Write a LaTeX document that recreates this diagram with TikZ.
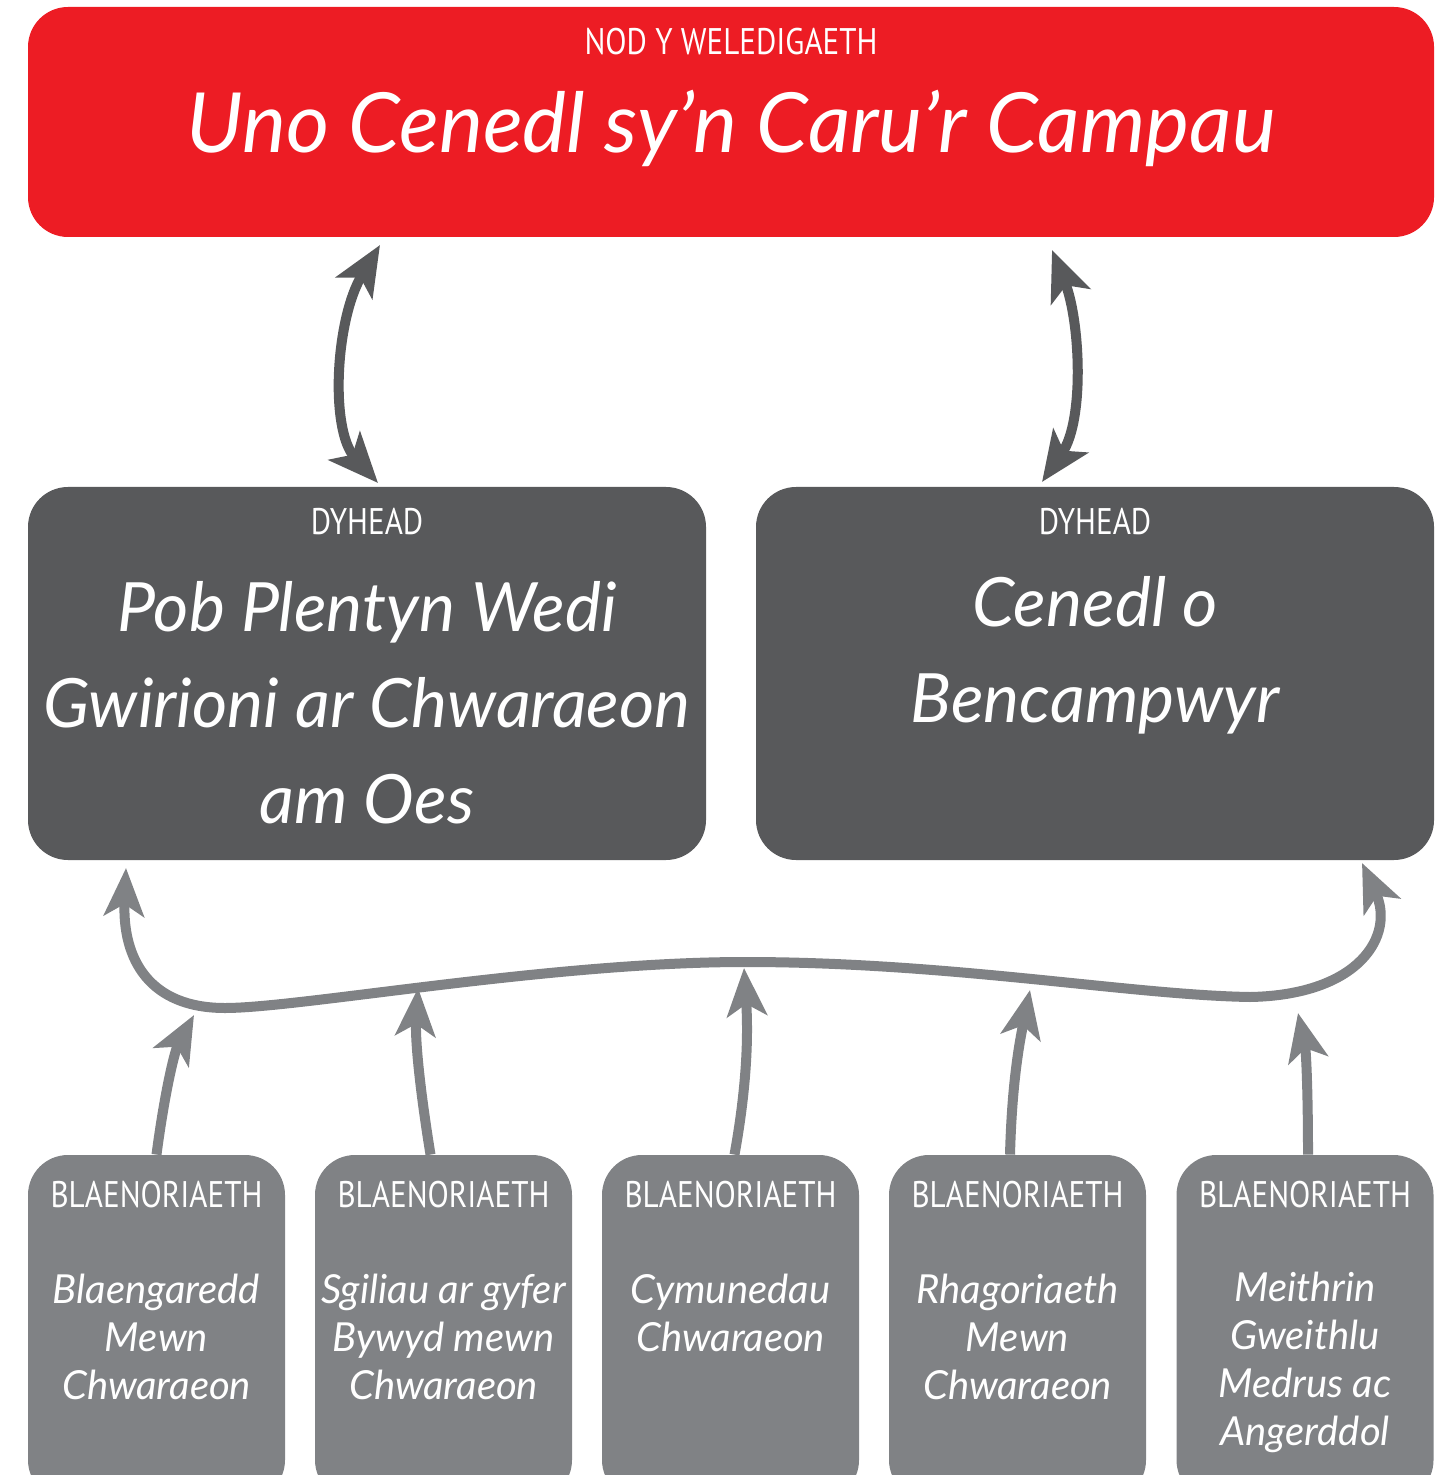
\documentclass[tikz,border=0pt]{standalone}
\usepackage{fontspec}
\setmainfont{Lato}
\newfontfamily\lab{PT Sans}[FakeStretch=0.84]
\newfontfamily\hand{Lato}
\usetikzlibrary{arrows.meta}
\definecolor{cred}{HTML}{ED1C24}
\definecolor{cdark}{HTML}{58595B}
\definecolor{cgrey}{HTML}{808285}
\begin{document}
\begin{tikzpicture}[x=0.5pt,y=-0.5pt,
  redbox/.style={fill=cred, rounded corners=20pt, minimum width=703pt, minimum height=115pt, inner sep=0pt},
  darkbox/.style={fill=cdark, rounded corners=20pt, minimum width=339pt, minimum height=186.5pt, inner sep=0pt},
  greybox/.style={fill=cgrey, rounded corners=20pt, minimum width=128.5pt, minimum height=172.5pt, inner sep=0pt},
  lbl/.style={text=white, inner sep=0pt, font=\lab\fontsize{18.5}{22}\selectfont},
  bigtxt/.style={text=white, inner sep=0pt, align=center, font=\hand\itshape\fontsize{41.5}{48}\selectfont},
  midtxt/.style={text=white, inner sep=0pt, align=center, font=\hand\itshape\fontsize{34}{48}\selectfont},
  smalltxt/.style={text=white, inner sep=0pt, align=center, font=\hand\itshape\fontsize{20}{24}\selectfont},
  darrow/.style={draw=cdark, line width=5pt, {Stealth[length=25pt,width=21pt,inset=6pt]}-{Stealth[length=25pt,width=21pt,inset=6pt]}},
  garrow/.style={draw=cgrey, line width=5pt, -{Stealth[length=24pt,width=20pt,inset=6pt]}},
  gdarrow/.style={draw=cgrey, line width=5pt, {Stealth[length=24pt,width=20pt,inset=6pt]}-{Stealth[length=24pt,width=20pt,inset=6pt]}}
]
\useasboundingbox (0,0) rectangle (1452,1475);
\clip (0,0) rectangle (1452,1475);

% boxes
\node[redbox] (top) at (731,122) {};
\node[darkbox] (dl) at (367,673.5) {};
\node[darkbox] (dr) at (1095,673.5) {};
\node[greybox] (b1) at (156.5,1327.5) {};
\node[greybox] (b2) at (443.5,1327.5) {};
\node[greybox] (b3) at (730.5,1327.5) {};
\node[greybox] (b4) at (1017.5,1327.5) {};
\node[greybox] (b5) at (1305,1327.5) {};

% labels
\node[lbl] (tl) at (731,42) {NOD Y WELEDIGAETH};
\node[bigtxt] (tt) at (731,128) {Uno Cenedl sy’n Caru’r Campau};
\node[lbl] (dll) at (367,522) {DYHEAD};
\node[lbl] (drl) at (1095,522) {DYHEAD};
\node[midtxt] (dlt) at (367,703) {Pob Plentyn Wedi\\Gwirioni ar Chwaraeon\\am Oes};
\node[midtxt] (drt) at (1095,655) {Cenedl o\\Bencampwyr};
\foreach \n in {1,...,5}{\node[lbl] (bl\n) at (b\n.north |- 0,1195) {BLAENORIAETH};}
\node[smalltxt] (bt1) at (156.5,1337) {Blaengaredd\\Mewn\\Chwaraeon};
\node[smalltxt] (bt2) at (443.5,1337) {Sgiliau ar gyfer\\Bywyd mewn\\Chwaraeon};
\node[smalltxt] (bt3) at (730.5,1313) {Cymunedau\\Chwaraeon};
\node[smalltxt] (bt4) at (1017.5,1337) {Rhagoriaeth\\Mewn\\Chwaraeon};
\node[smalltxt] (bt5) at (1305,1362) {Meithrin\\Gweithlu\\Medrus ac\\Angerddol};

% double arrows between vision and ambitions
\coordinate (lt) at (380,245);
\coordinate (lb) at (378,483);
\coordinate (rt) at (1052,250);
\coordinate (rb) at (1042,482);
\draw[darrow] (lb) .. controls (330,430) and (335,320) .. (lt);
\draw[darrow] (rb) .. controls (1085,420) and (1080,320) .. (rt);

% big curved arrow
\coordinate (cl) at (126,868);
\coordinate (cr) at (1362,863);
\draw[gdarrow] (cl) .. controls (122,960) and (150,1008) .. (225,1008)
  .. controls (300,1008) and (550,962) .. (745,962)
  .. controls (950,962) and (1130,995) .. (1250,997)
  .. controls (1360,995) and (1395,935) .. (cr);

% small arrows from priorities
\coordinate (e1) at (194,1015);
\coordinate (e2) at (418,988);
\coordinate (e3) at (744,968);
\coordinate (e4) at (1030,990);
\coordinate (e5) at (1298,1013);
\draw[garrow] (b1.north) .. controls (165,1090) and (175,1050) .. (e1);
\draw[garrow] ([xshift=-6.5pt]b2.north) .. controls (420,1090) and (415,1040) .. (e2);
\draw[garrow] ([xshift=2pt]b3.north) .. controls (748,1080) and (748,1030) .. (e3);
\draw[garrow] ([xshift=-3.75pt]b4.north) .. controls (1012,1080) and (1020,1040) .. (e4);
\draw[garrow] ([xshift=1.5pt]b5.north) .. controls (1308,1090) and (1306,1050) .. (e5);
\end{tikzpicture}
\end{document}
